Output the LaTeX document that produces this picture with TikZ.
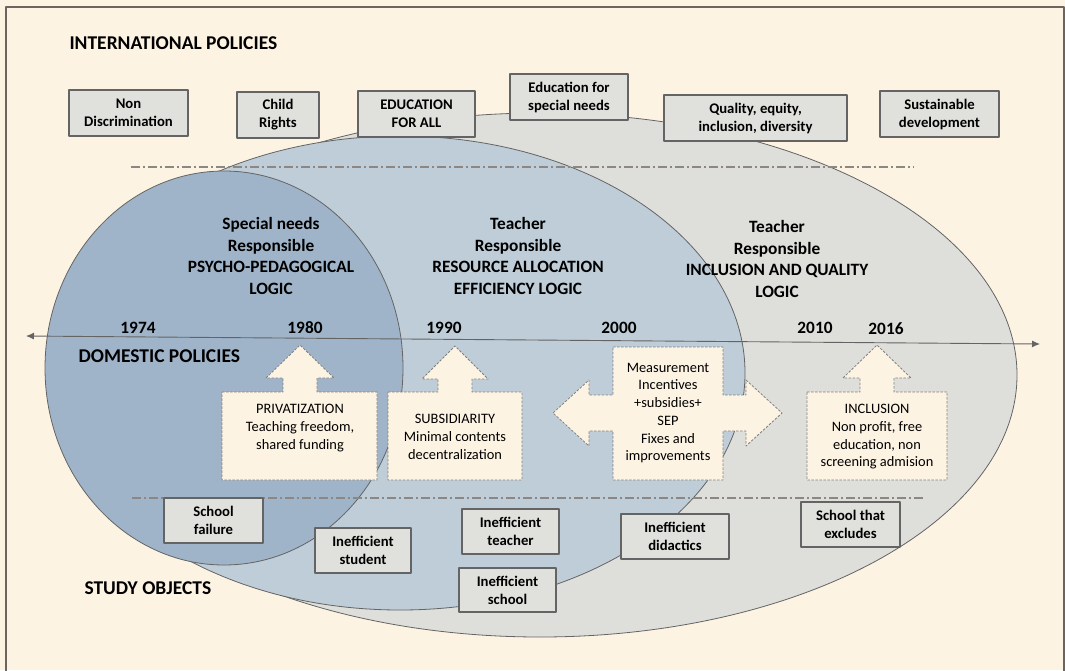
\documentclass[tikz,border=0pt]{standalone}
\usepackage{fontspec}
\setmainfont{Carlito}
\usetikzlibrary{arrows.meta}

\definecolor{cream}{RGB}{253,243,227}
\definecolor{ovalgray}{RGB}{222,223,219}
\definecolor{ovalmid}{RGB}{190,205,215}
\definecolor{ovalblue}{RGB}{159,180,201}
\definecolor{boxfill}{RGB}{224,224,221}
\definecolor{edgegray}{RGB}{100,100,100}
\definecolor{framegray}{RGB}{110,100,95}
\definecolor{dashgray}{RGB}{140,135,130}

\tikzset{
  title/.style={font=\fontsize{19.5}{23}\selectfont\bfseries, anchor=west},
  logic/.style={font=\fontsize{17.3}{21.5}\selectfont\bfseries, align=center},
  year/.style={font=\fontsize{17.3}{20}\selectfont\bfseries},
  objbox/.style={draw=edgegray, line width=1.2pt, fill=boxfill, align=center, inner sep=0pt,
    font=\fontsize{14.7}{18}\selectfont\bfseries},
  blockarrow/.style={draw=gray, fill=cream, line width=0.8pt, dash pattern=on 2.5pt off 1.5pt},
  armtext/.style={font=\fontsize{14.4}{17.7}\selectfont, align=center},
  oval/.style={draw=edgegray, line width=0.8pt},
  divider/.style={draw=dashgray, line width=1.2pt, dash pattern=on 9pt off 3pt on 2pt off 3pt}
}

\begin{document}
\begin{tikzpicture}[x=1pt, y=-1pt, line join=round]
  % Page and frame
  \useasboundingbox (0,0) rectangle (1065,670);
  \fill[cream] (0,0) rectangle (1065,670);
  \draw[framegray, line width=1.3pt] (6,675) -- (6,7) -- (1064,7) -- (1064,675);

  % Nested periods
  \draw[oval, fill=ovalgray] (540,375) ellipse [x radius=477, y radius=262];
  \draw[oval, fill=ovalmid] (400,373) ellipse [x radius=345, y radius=237];
  \draw[oval, fill=ovalblue] (224,368) ellipse [x radius=179, y radius=197];

  % Dividers
  \draw[divider] (131,167) -- (914,167);
  \draw[divider] (132,498) -- (925,498);

  % Timeline
  \coordinate (past) at (26,336);
  \coordinate (future) at (1040,344);
  \draw[edgegray, line width=0.9pt, {Latex[length=8pt,width=7pt]}-{Latex[length=8pt,width=7pt]}] (past) -- (future);

  % Section titles
  \node[title] (intl) at (66,43) {INTERNATIONAL POLICIES};
  \node[title] (dom) at (75,356) {DOMESTIC POLICIES};
  \node[title] (study) at (81,588) {STUDY OBJECTS};

  % International policies
  \node[objbox, minimum width=119pt, minimum height=46pt] (nondisc) at (128.5,113) {Non\\Discrimination};
  \node[objbox, minimum width=82pt, minimum height=46pt] (child) at (278,115) {Child\\Rights};
  \node[objbox, minimum width=117pt, minimum height=46pt] (efa) at (416.5,114) {EDUCATION\\FOR ALL};
  \node[objbox, minimum width=118pt, minimum height=46pt] (esn) at (569,97) {Education for\\special needs};
  \node[objbox, minimum width=183pt, minimum height=46pt] (qual) at (755.5,118) {Quality, equity,\\inclusion, diversity};
  \node[objbox, minimum width=119pt, minimum height=46pt] (sust) at (939.5,114) {Sustainable\\development};

  % Logics
  \node[logic] (psycho) at (271,256) {Special needs\\Responsible\\PSYCHO-PEDAGOGICAL\\LOGIC};
  \node[logic] (effic) at (518,256) {Teacher\\Responsible\\RESOURCE ALLOCATION\\EFFICIENCY LOGIC};
  \node[logic] (qualog) at (777,259) {Teacher\\Responsible\\INCLUSION AND QUALITY\\LOGIC};

  % Years
  \node[year] (y74) at (138,328) {1974};
  \node[year] (y80) at (305,328) {1980};
  \node[year] (y90) at (444,328) {1990};
  \node[year] (y00) at (619,328) {2000};
  \node[year] (y10) at (815,328) {2010};
  \node[year] (y16) at (886,329) {2016};

  % Domestic policies (block arrows)
  \draw[blockarrow] (222,392) -- (283,392) -- (283,378) -- (266,378) -- (300,345) -- (334,378)
    -- (317,378) -- (317,392) -- (377,392) -- (377,480) -- (222,480) -- cycle;
  \draw[blockarrow] (388,392) -- (438,392) -- (438,379) -- (422,379) -- (455,346) -- (488,379)
    -- (472,379) -- (472,392) -- (522,392) -- (522,480) -- (388,480) -- cycle;
  \draw[blockarrow] (613,347) -- (723,347) -- (723,395) -- (746,395) -- (746,380) -- (782,413)
    -- (746,446) -- (746,431) -- (723,431) -- (723,480) -- (613,480) -- (613,431) -- (589,431)
    -- (589,446) -- (553,413) -- (589,380) -- (589,395) -- (613,395) -- cycle;
  \draw[blockarrow] (807,392) -- (860,392) -- (860,378) -- (843,378) -- (877,345) -- (911,378)
    -- (894,378) -- (894,392) -- (947,392) -- (947,480) -- (807,480) -- cycle;

  \node[armtext] (priv) at (300,428) {PRIVATIZATION\\Teaching freedom,\\shared funding};
  \node[armtext] (subs) at (455,437) {SUBSIDIARITY\\Minimal contents\\decentralization};
  \node[armtext] (meas) at (668,413) {Measurement\\Incentives\\+subsidies+\\SEP\\Fixes and\\improvements};
  \node[armtext] (incl) at (877,437) {INCLUSION\\Non profit, free\\education, non\\screening admision};

  % Study objects
  \node[objbox, minimum width=99pt, minimum height=45pt] (fail) at (213.5,520.5) {School\\failure};
  \node[objbox, minimum width=96pt, minimum height=45pt] (student) at (363,550.5) {Inefficient\\student};
  \node[objbox, minimum width=97pt, minimum height=45pt] (teacher) at (510.5,531.5) {Inefficient\\teacher};
  \node[objbox, minimum width=97pt, minimum height=44pt] (school) at (507.5,590) {Inefficient\\school};
  \node[objbox, minimum width=108pt, minimum height=45pt] (didact) at (675,536.5) {Inefficient\\didactics};
  \node[objbox, minimum width=99pt, minimum height=45pt] (excl) at (850.5,524.5) {School that\\excludes};
\end{tikzpicture}
\end{document}
